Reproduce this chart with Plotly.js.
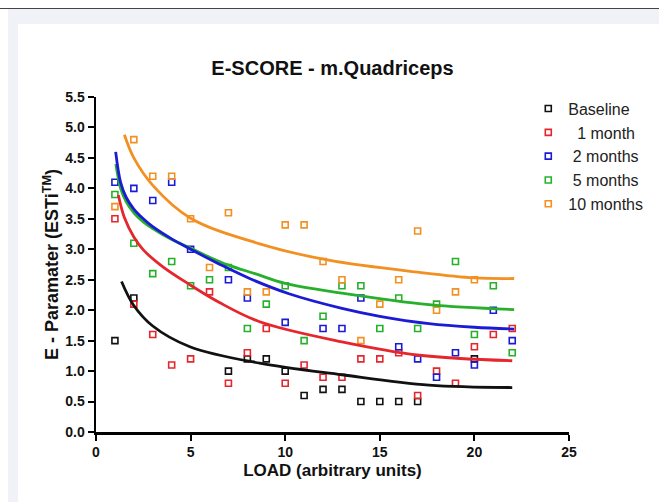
<!DOCTYPE html>
<html>
<head>
<meta charset="utf-8">
<script src="https://cdn.plot.ly/plotly-3.0.1.min.js"></script>
<style>
  html, body { margin:0; padding:0; background:#ffffff; }
  #wrap { position:relative; width:659px; height:502px; overflow:hidden; }
  #topline { position:absolute; left:0; top:8px; width:659px; height:1px; background:#444; }
  #grayband { position:absolute; left:8px; top:9px; width:651px; height:493px; background:#f1f2f7; }
  #inner { position:absolute; left:18px; top:24px; width:641px; height:478px; background:#ffffff; }
  #chart { position:absolute; left:0; top:0; width:659px; height:502px; }
</style>
</head>
<body>
<div id="wrap">
  <div id="topline"></div>
  <div id="grayband"></div>
  <div id="inner"></div>
  <div id="chart"></div>
</div>
<script>
// ---- data ----
const seriesNames = ["Baseline", "\u00a0\u00a01 month", "\u00a02 months", "\u00a05 months", "10 months"];
const seriesColors = ["#111111", "#e5262c", "#1b1bd6", "#27b02b", "#f29021"];

const baselineX = [1, 2, 7, 8, 9, 10, 11, 12, 13, 14, 15, 16, 17, 20];
const baselineY = [1.5, 2.2, 1.0, 1.2, 1.2, 1.0, 0.6, 0.7, 0.7, 0.5, 0.5, 0.5, 0.5, 1.2];

const month1X = [1, 2, 3, 4, 5, 6, 7, 8, 9, 10, 11, 12, 13, 14, 15, 16, 17, 18, 19, 20, 21, 22];
const month1Y = [3.5, 2.1, 1.6, 1.1, 1.2, 2.3, 0.8, 1.3, 1.7, 0.8, 1.1, 0.9, 0.9, 1.2, 1.2, 1.3, 0.6, 1.0, 0.8, 1.4, 1.6, 1.7];

const month2X = [1, 2, 3, 4, 5, 7, 8, 10, 12, 13, 14, 16, 17, 18, 19, 20, 21, 22];
const month2Y = [4.1, 4.0, 3.8, 4.1, 3.0, 2.5, 2.2, 1.8, 1.7, 1.7, 2.2, 1.4, 1.2, 0.9, 1.3, 1.1, 2.0, 1.5];

const month5X = [1, 2, 3, 4, 5, 6, 7, 8, 9, 10, 11, 12, 13, 14, 15, 16, 17, 18, 19, 20, 21, 22];
const month5Y = [3.9, 3.1, 2.6, 2.8, 2.4, 2.5, 2.7, 1.7, 2.1, 2.4, 1.5, 1.9, 2.4, 2.4, 1.7, 2.2, 1.7, 2.1, 2.8, 1.6, 2.4, 1.3];

const month10X = [1, 2, 3, 4, 5, 6, 7, 8, 9, 10, 11, 12, 13, 14, 15, 16, 17, 18, 19, 20];
const month10Y = [3.7, 4.8, 4.2, 4.2, 3.5, 2.7, 3.6, 2.3, 2.3, 3.4, 3.4, 2.8, 2.5, 1.5, 2.1, 2.5, 3.3, 2.0, 2.3, 2.5];

// fitted curves
const fitBaselineX = [1.35, 1.97, 3, 4.96, 8.65, 13, 17.6, 22];
const fitBaselineY = [2.47, 2.09, 1.74, 1.40, 1.13, 0.94, 0.77, 0.73];
const fitMonth1X = [1.18, 1.5, 2, 2.5, 3.5, 5, 6.5, 8.65, 13, 17.1, 22];
const fitMonth1Y = [3.89, 3.52, 3.2, 2.99, 2.72, 2.41, 2.13, 1.81, 1.48, 1.26, 1.17];
const fitMonth2X = [1.04, 1.3, 1.6, 2, 2.5, 3, 4, 5, 6.5, 8.12, 10.2, 13, 15, 17.6, 20, 22.1];
const fitMonth2Y = [4.6, 4.1, 3.85, 3.66, 3.5, 3.37, 3.17, 3.0, 2.76, 2.52, 2.27, 2.03, 1.9, 1.78, 1.72, 1.69];
const fitMonth5X = [1.05, 1.3, 1.6, 2, 2.5, 3, 4, 5, 6, 7, 8.4, 10, 13, 17.6, 22.1];
const fitMonth5Y = [4.4, 4.0, 3.78, 3.6, 3.45, 3.34, 3.16, 3.02, 2.87, 2.74, 2.6, 2.44, 2.28, 2.09, 2.01];
const fitMonth10X = [1.5, 2, 3, 5, 8.65, 12.3, 17.1, 20, 22.1];
const fitMonth10Y = [4.88, 4.5, 4.05, 3.51, 3.09, 2.82, 2.62, 2.53, 2.52];

const xTicks = [0, 5, 10, 15, 20, 25];
const yTicks = [0, 0.5, 1, 1.5, 2, 2.5, 3, 3.5, 4, 4.5, 5, 5.5];

// ---- build traces ----
const pts = [[baselineX, baselineY], [month1X, month1Y], [month2X, month2Y], [month5X, month5Y], [month10X, month10Y]];
const fits = [[fitBaselineX, fitBaselineY], [fitMonth1X, fitMonth1Y], [fitMonth5X, fitMonth5Y], [fitMonth2X, fitMonth2Y], [fitMonth10X, fitMonth10Y]];
const fitColorIdx = [0, 1, 3, 2, 4];

const traces = [];
pts.forEach((p, i) => {
  traces.push({
    type: 'scatter', mode: 'markers', x: p[0], y: p[1], name: seriesNames[i],
    legendgroup: 'g' + i, cliponaxis: false,
    marker: { symbol: 'square-open', size: 6, color: seriesColors[i], line: { width: 1.6, color: seriesColors[i] } }
  });
});
fits.forEach((f, j) => {
  traces.push({
    type: 'scatter', mode: 'lines', x: f[0], y: f[1], showlegend: false, hoverinfo: 'skip',
    line: { color: seriesColors[fitColorIdx[j]], width: 2.8, shape: 'spline', smoothing: 1 }
  });
});

const fontFam = 'Liberation Sans, Arial, sans-serif';
const layout = {
  width: 659, height: 502,
  margin: { l: 96, r: 89, t: 97, b: 70 },
  paper_bgcolor: 'rgba(0,0,0,0)', plot_bgcolor: 'rgba(0,0,0,0)',
  font: { family: fontFam, color: '#111' },
  title: {
    text: 'E-SCORE - m.Quadriceps', xref: 'paper', x: 0.5, xanchor: 'center',
    yref: 'container', y: 1 - 68 / 502, yanchor: 'middle',
    font: { family: fontFam, size: 20, weight: 'bold', color: '#111' }
  },
  xaxis: {
    range: [0, 25], tickvals: xTicks, ticktext: xTicks.map(String),
    showline: true, linecolor: '#000', linewidth: 2.5, mirror: false,
    ticks: 'outside', ticklen: 6, tickwidth: 2, tickcolor: '#000',
    showgrid: false, zeroline: false,
    tickfont: { family: fontFam, size: 14, weight: 'bold', color: '#111' },
    title: { text: 'LOAD (arbitrary units)', standoff: 5, font: { family: fontFam, size: 17, weight: 'bold', color: '#111' } }
  },
  yaxis: {
    range: [0, 5.5], tickvals: yTicks, ticktext: yTicks.map(v => v.toFixed(1)),
    showline: true, linecolor: '#000', linewidth: 2.5,
    ticks: 'outside', ticklen: 6, tickwidth: 2, tickcolor: '#000',
    showgrid: false, zeroline: false,
    tickfont: { family: fontFam, size: 14, weight: 'bold', color: '#111' },
    title: { text: 'E - Paramater (ESTi<sup>TM</sup>)', standoff: 2, font: { family: fontFam, size: 18, weight: 'bold', color: '#111' } }
  },
  showlegend: true,
  legend: {
    x: 0.912, xanchor: 'left', y: 1.016, yanchor: 'top',
    bgcolor: 'rgba(0,0,0,0)', borderwidth: 0,
    font: { family: fontFam, size: 16, color: '#222' },
    tracegroupgap: 9, traceorder: 'normal'
  }
};

Plotly.newPlot('chart', traces, layout, { staticPlot: true, displayModeBar: false });
</script>
</body>
</html>
